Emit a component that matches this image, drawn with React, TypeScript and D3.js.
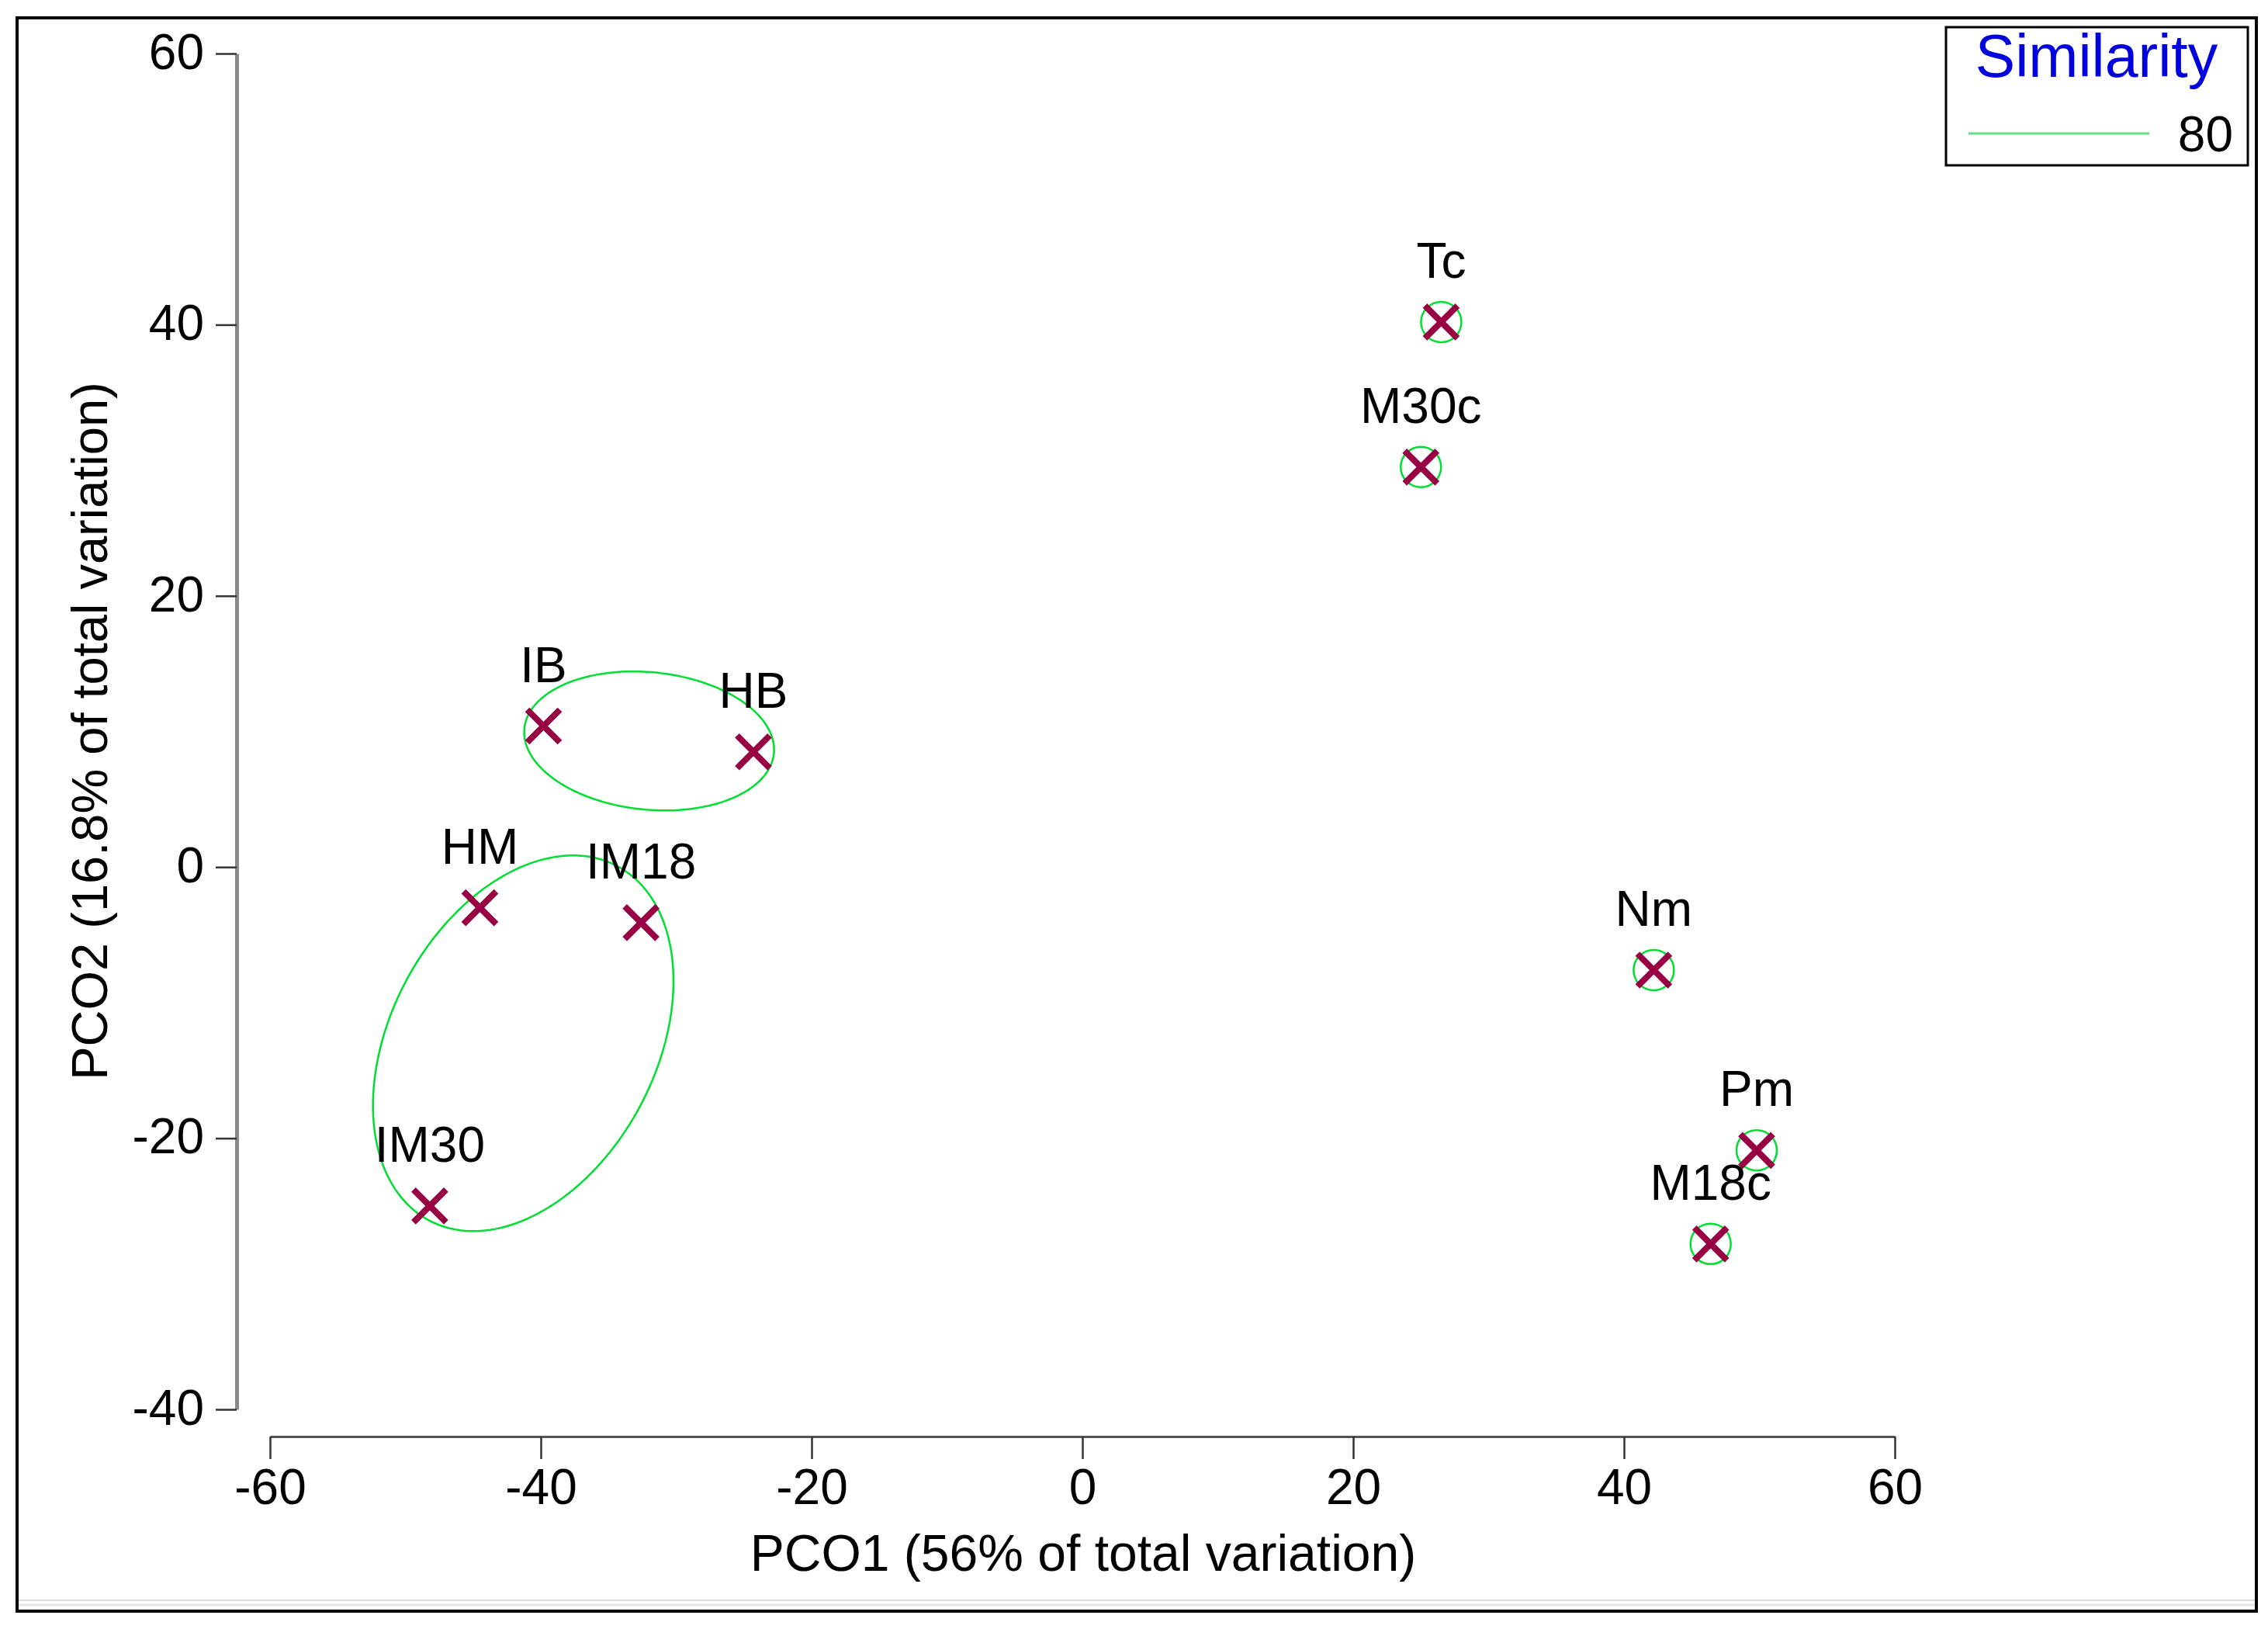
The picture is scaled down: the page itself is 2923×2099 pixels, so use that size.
import { FC, useEffect, useMemo, useRef } from 'react';
import * as d3 from 'd3';

// sample scores on the first two principal coordinates
const sampleNames = ['Tc', 'M30c', 'IB', 'HB', 'HM', 'IM18', 'IM30', 'Nm', 'Pm', 'M18c'];
const pco1 = [26.5, 25.0, -39.8, -24.3, -44.5, -32.6, -48.2, 42.2, 49.8, 46.4];
const pco2 = [40.2, 29.5, 10.4, 8.5, -3.0, -4.1, -25.0, -7.6, -20.9, -27.8];

// samples that form a group of their own at 80% similarity
const singletons = ['Tc', 'M30c', 'Nm', 'Pm', 'M18c'];

// 80% similarity outlines around grouped samples (data units, angle in degrees)
const ellipseCx = [-32.0, -41.3];
const ellipseCy = [9.3, -13.0];
const ellipseRx = [9.26, 14.8];
const ellipseRy = [5.07, 9.8];
const ellipseAngle = [-5.7, 62];

const xTicks = [-60, -40, -20, 0, 20, 40, 60];
const yTicks = [-40, -20, 0, 20, 40, 60];
const legendTitle = 'Similarity';
const legendLevels = ['80'];

const W = 2923;
const H = 2099;
const FONT = '"Liberation Sans", Arial, sans-serif';
const GREEN = '#00dd33';
const MAROON = '#990044';

const App: FC = () => {
  const xAxisRef = useRef<SVGGElement>(null);
  const yAxisRef = useRef<SVGGElement>(null);

  const xScale = useMemo(() => d3.scaleLinear().domain([-60, 60]).range([348, 2442]), []);
  const yScale = useMemo(() => d3.scaleLinear().domain([-40, 60]).range([1816, 69]), []);

  useEffect(() => {
    const gx = d3.select(xAxisRef.current);
    gx.selectAll('*').remove();
    gx.call(d3.axisBottom(xScale).tickValues(xTicks).tickSize(29).tickSizeOuter(0).tickPadding(13).tickFormat((d) => String(d)));
    gx.select('.domain').attr('stroke', '#555').attr('stroke-width', 3);
    gx.selectAll('.tick line').attr('stroke', '#333').attr('stroke-width', 2.5);
    gx.selectAll('.tick text').attr('font-size', 64).attr('font-family', FONT).attr('fill', '#000');
    gx.attr('font-size', null).attr('font-family', null);

    const gy = d3.select(yAxisRef.current);
    gy.selectAll('*').remove();
    gy.call(d3.axisLeft(yScale).tickValues(yTicks).tickSize(27).tickSizeOuter(0).tickPadding(15).tickFormat((d) => String(d)));
    gy.select('.domain').attr('stroke', '#888').attr('stroke-width', 5);
    gy.selectAll('.tick line').attr('stroke', '#333').attr('stroke-width', 2.5);
    gy.selectAll('.tick text').attr('font-size', 64).attr('font-family', FONT).attr('fill', '#000').attr('dy', '0.3em');
    gy.attr('font-size', null).attr('font-family', null);
  }, [xScale, yScale]);

  const ellipsePath = (i: number) => {
    const a = (ellipseAngle[i] * Math.PI) / 180;
    const pts = d3.range(0, 2 * Math.PI, Math.PI / 90).map((t) => {
      const ex = ellipseRx[i] * Math.cos(t);
      const ey = ellipseRy[i] * Math.sin(t);
      return [ellipseCx[i] + ex * Math.cos(a) - ey * Math.sin(a), ellipseCy[i] + ex * Math.sin(a) + ey * Math.cos(a)] as [number, number];
    });
    return d3
      .line<[number, number]>()
      .x((d) => xScale(d[0]))
      .y((d) => yScale(d[1]))
      .curve(d3.curveLinearClosed)(pts);
  };

  const arm = 21;

  return (
    <svg width={W} height={H} style={{ position: 'absolute', left: 0, top: 0, background: '#fff' }} fontFamily={FONT}>
      <rect x={0} y={0} width={W} height={H} fill="#fff" />
      {/* frame */}
      <line x1={24} x2={2906} y1={2062} y2={2062} stroke="#dcdcdc" strokeWidth={2} />
      <line x1={24} x2={2906} y1={2068} y2={2068} stroke="#e4e4e4" strokeWidth={3} />
      <rect x={22} y={23} width={2886} height={2053} fill="none" stroke="#000" strokeWidth={4} />

      <g ref={xAxisRef} transform="translate(0,1851)" />
      <g ref={yAxisRef} transform="translate(305,0)" />

      <text x={1396} y={2024} fontSize={66} textAnchor="middle" fill="#000">
        PCO1 (56% of total variation)
      </text>
      <text transform="translate(138,942) rotate(-90)" fontSize={65} textAnchor="middle" fill="#000">
        PCO2 (16.8% of total variation)
      </text>

      {ellipseCx.map((_, i) => (
        <path key={`e${i}`} d={ellipsePath(i) || ''} fill="none" stroke={GREEN} strokeWidth={2.5} />
      ))}

      {sampleNames.map((name, i) => {
        const cx = xScale(pco1[i]);
        const cy = yScale(pco2[i]);
        return (
          <g key={name}>
            {singletons.includes(name) && <circle cx={cx} cy={cy} r={26} fill="none" stroke={GREEN} strokeWidth={2.5} />}
            <path
              d={`M${cx - arm},${cy - arm}L${cx + arm},${cy + arm}M${cx - arm},${cy + arm}L${cx + arm},${cy - arm}`}
              stroke={MAROON}
              strokeWidth={8}
            />
            <text x={cx} y={cy - 57} fontSize={64} textAnchor="middle" fill="#000">
              {name}
            </text>
          </g>
        );
      })}

      {/* legend */}
      <rect x={2508} y={35} width={389} height={178} fill="#fff" stroke="#000" strokeWidth={3} />
      <text x={2702} y={99} fontSize={77} textAnchor="middle" fill="#0000dd">
        {legendTitle}
      </text>
      {legendLevels.map((lv) => (
        <g key={lv}>
          <line x1={2537} x2={2770} y1={172} y2={172} stroke="#66dd88" strokeWidth={3} />
          <text x={2878} y={195} fontSize={64} textAnchor="end" fill="#000">
            {lv}
          </text>
        </g>
      ))}
    </svg>
  );
};

export default App;
